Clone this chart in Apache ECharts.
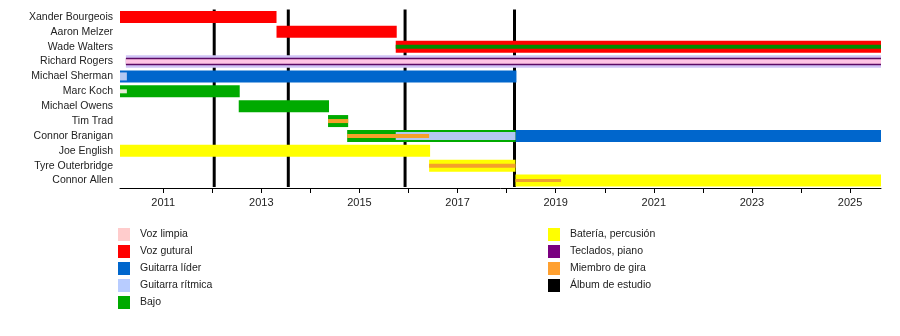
<!DOCTYPE html>
<html><head><meta charset="utf-8">
<script src="https://cdn.jsdelivr.net/npm/echarts@6/dist/echarts.min.js"></script>
<style>html,body{margin:0;padding:0;background:#fff}#c{width:900px;height:336px}</style>
</head><body><div id="c"></div>
<script>
const members = ['Xander Bourgeois','Aaron Melzer','Wade Walters','Richard Rogers','Michael Sherman','Marc Koch','Michael Owens','Tim Trad','Connor Branigan','Joe English','Tyre Outerbridge','Connor Allen'];
const startDate = 2010.12, endDate = 2025.63;
const tickYears = [2011,2012,2013,2014,2015,2016,2017,2018,2019,2020,2021,2022,2023,2024,2025];
const labelYears = [2011,2013,2015,2017,2019,2021,2023,2025];
const albumYears = [2012.04, 2013.55, 2015.93, 2018.16];

// role periods: [member, start, end]
const vozGutural = [['Xander Bourgeois',2010.12,2013.31],['Aaron Melzer',2013.31,2015.76],['Wade Walters',2015.74,2025.63]];
const guitarraLider = [['Michael Sherman',2010.12,2018.20],['Connor Branigan',2018.18,2025.63]];
const bajo = [['Marc Koch',2010.12,2012.56],['Michael Owens',2012.54,2014.38],['Tim Trad',2014.36,2014.77],['Connor Branigan',2014.75,2018.18]];
const bateria = [['Joe English',2010.12,2016.44],['Tyre Outerbridge',2016.42,2018.18],['Connor Allen',2018.18,2025.63]];
const ritmicaMain = [['Richard Rogers',2010.24,2025.63]];
const ritmicaShared = [['Michael Sherman',2010.12,2010.26],['Connor Branigan',2015.74,2018.18]];
const teclados = [['Richard Rogers',2010.24,2025.63]];
const vozLimpia = [['Richard Rogers',2010.24,2025.63]];
const vozLimpiaShared = [['Marc Koch',2010.12,2010.26]];
const bajoShared = [['Wade Walters',2015.74,2025.63]];
const gira = [['Tim Trad',2014.36,2014.77],['Connor Branigan',2014.75,2016.42],['Tyre Outerbridge',2016.42,2018.18]];
const giraShort = [['Connor Allen',2018.18,2019.11]];

const FONT = '"Liberation Sans", Arial, sans-serif';
const toData = arr => arr.map(d => [members.indexOf(d[0]), d[1], d[2]]);
function band(name, arr, color, h, z){
  return {
    type:'custom', name, z, silent:true,
    itemStyle:{color},
    encode:{x:[1,2], y:0},
    data: toData(arr),
    renderItem:(params, api) => {
      const row = api.value(0), s = api.value(1), e = api.value(2);
      const p1 = api.coord([s,row]), p2 = api.coord([e,row]);
      return {type:'rect', shape:{x:p1[0], y:p1[1]-h/2, width:p2[0]-p1[0], height:h}, style:{fill:color}};
    }
  };
}

const chart = echarts.init(document.getElementById('c'), null, {renderer:'canvas'});
chart.setOption({
  animation:false,
  grid:{left:120, right:19, top:9.5, bottom:148, containLabel:false},
  xAxis:{
    type:'value', min:startDate, max:endDate,
    axisLine:{show:true, lineStyle:{color:'#000', width:1}},
    axisTick:{show:true, customValues:tickYears, length:5, lineStyle:{color:'#000'}},
    axisLabel:{customValues:labelYears, formatter:v=>String(Math.round(v)), fontSize:11, color:'#222', fontFamily:FONT, margin:9},
    splitLine:{show:false}
  },
  yAxis:{
    type:'category', data:members, inverse:true,
    axisLine:{show:false}, axisTick:{show:false}, splitLine:{show:false},
    axisLabel:{fontSize:10.5, color:'#222', fontFamily:FONT, margin:7}
  },
  legend:[
    {data:[
      {name:'Voz limpia', itemStyle:{color:'#ffcccc'}},
      {name:'Voz gutural', itemStyle:{color:'#ff0000'}},
      {name:'Guitarra líder', itemStyle:{color:'#0066cc'}},
      {name:'Guitarra rítmica', itemStyle:{color:'#b8ccff'}},
      {name:'Bajo', itemStyle:{color:'#00aa00'}}],
     orient:'vertical', left:118, top:228, padding:0, itemWidth:12, itemHeight:13, itemGap:4, icon:'rect', selectedMode:false,
     textStyle:{fontSize:10.5, color:'#222', fontFamily:FONT, padding:[0,0,0,5]}},
    {data:[
      {name:'Batería, percusión', itemStyle:{color:'#ffff00'}},
      {name:'Teclados, piano', itemStyle:{color:'#7a0080'}},
      {name:'Miembro de gira', itemStyle:{color:'#ffa030'}},
      {name:'Álbum de estudio', itemStyle:{color:'#000000'}}],
     orient:'vertical', left:548, top:228, padding:0, itemWidth:12, itemHeight:13, itemGap:4, icon:'rect', selectedMode:false,
     textStyle:{fontSize:10.5, color:'#222', fontFamily:FONT, padding:[0,0,0,5]}}
  ],
  series:[
    {type:'custom', name:'Álbum de estudio', z:1, silent:true, itemStyle:{color:'#000'},
     encode:{x:0}, data:albumYears.map(y=>[y]),
     renderItem:(params, api) => {
       const cs = params.coordSys; const x = api.coord([api.value(0), 0])[0];
       return {type:'line', shape:{x1:x, y1:cs.y, x2:x, y2:cs.y+cs.height-1}, style:{stroke:'#000', lineWidth:3}};
     }},
    band('Voz gutural', vozGutural, '#ff0000', 12, 2),
    band('Guitarra líder', guitarraLider, '#0066cc', 12, 2),
    band('Bajo', bajo, '#00aa00', 12, 2),
    band('Batería, percusión', bateria, '#ffff00', 12, 2),
    band('Guitarra rítmica', ritmicaMain, '#d0c4f6', 12.5, 2),
    band('Guitarra rítmica', ritmicaShared, '#b4c8f2', 8, 3),
    band('Teclados, piano', teclados, '#5c0a64', 7.5, 3),
    band('Voz limpia', vozLimpia, '#ffc4e4', 4.5, 4),
    band('Voz limpia', vozLimpiaShared, '#e6ecd6', 4, 4),
    band('Bajo', bajoShared, '#008c00', 4, 4),
    band('Miembro de gira', gira, '#f4a02a', 4, 5),
    band('Miembro de gira', giraShort, '#eda030', 3, 5)
  ]
});
</script></body></html>
